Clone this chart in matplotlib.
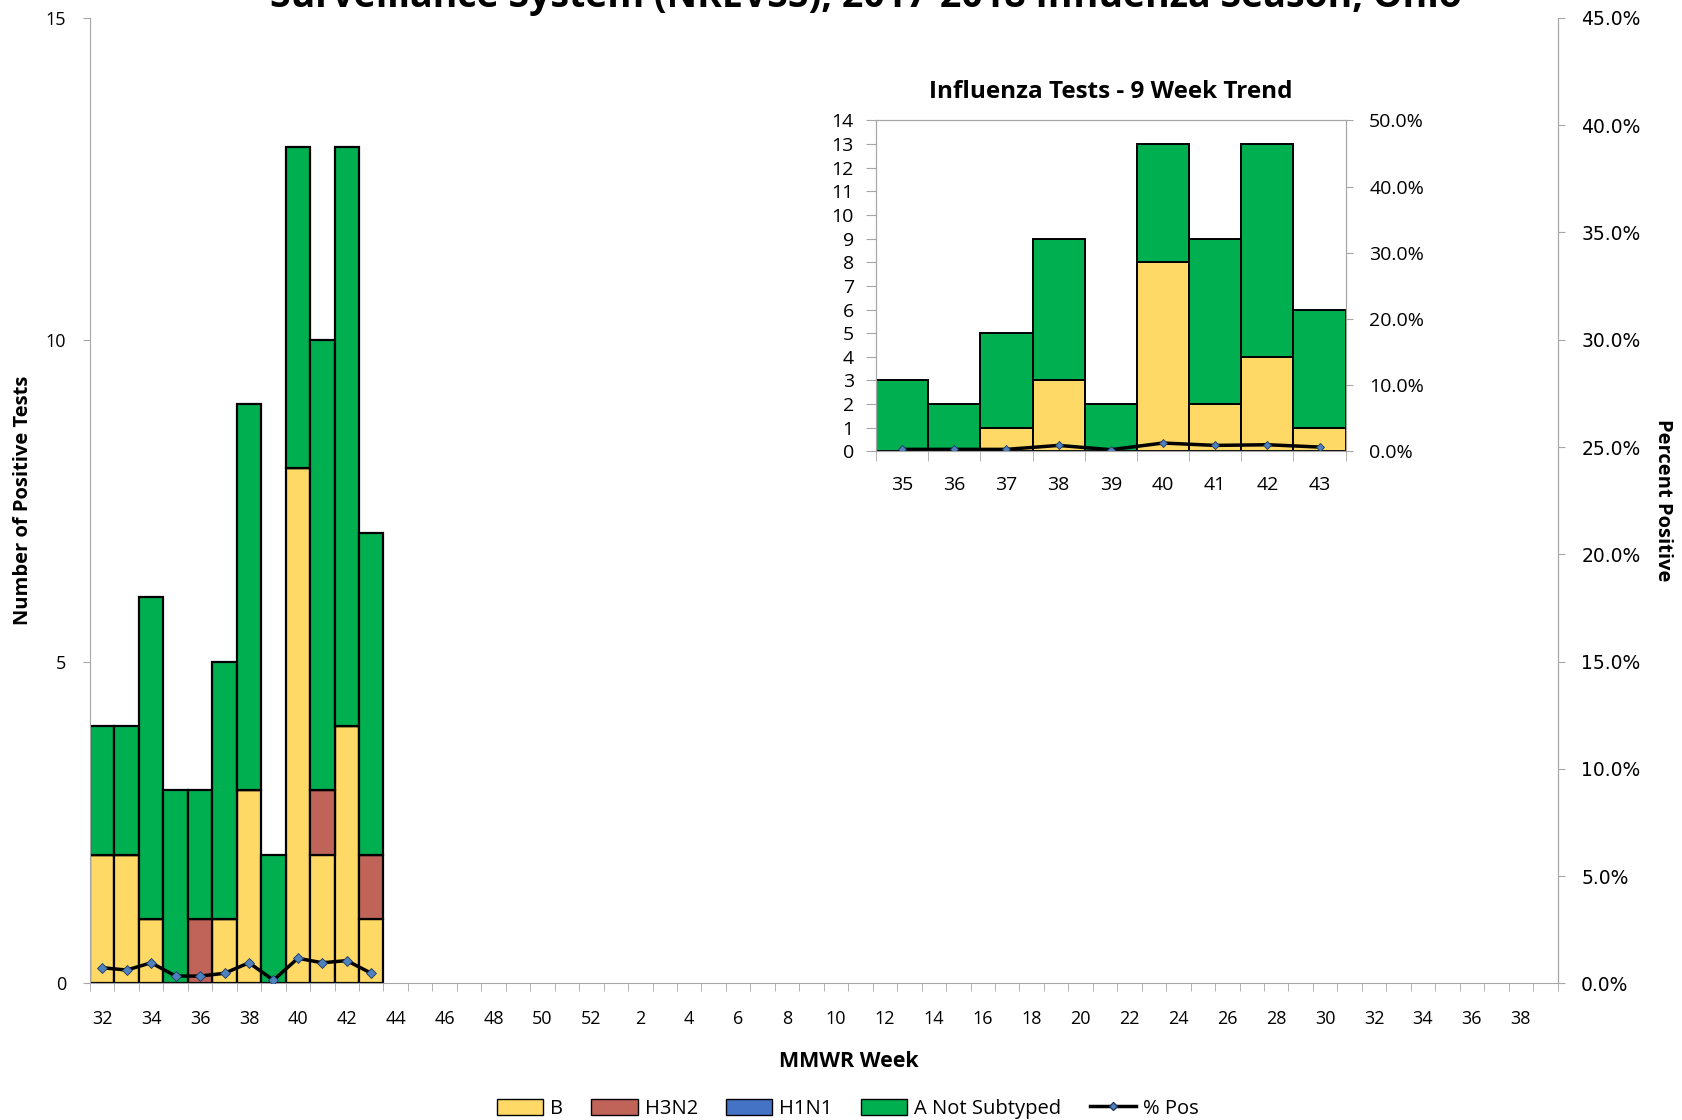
"""Influenza positive tests by MMWR week with a 9-week inset."""
import matplotlib
matplotlib.use("Agg")
import matplotlib.pyplot as plt
import numpy as np
from matplotlib.ticker import PercentFormatter, FixedLocator
from matplotlib.patches import Patch
from matplotlib.lines import Line2D

plt.rcParams["font.family"] = ["Open Sans", "DejaVu Sans"]

# main chart: season weeks 32..52, then 1..39
weeks = list(range(32, 53)) + list(range(1, 40))
b_vals = [2, 2, 1, 0, 0, 1, 3, 0, 8, 2, 4, 1]
h3n2_vals = [0, 0, 0, 0, 1, 0, 0, 0, 0, 1, 0, 1]
h1n1_vals = [0, 0, 0, 0, 0, 0, 0, 0, 0, 0, 0, 0]
ans_vals = [2, 2, 5, 3, 2, 4, 6, 2, 5, 7, 9, 5]
pct_pos = [0.73, 0.62, 0.96, 0.34, 0.34, 0.47, 0.96, 0.15, 1.17, 0.96, 1.06, 0.47]

# inset: last 9 weeks
inset_weeks = [35, 36, 37, 38, 39, 40, 41, 42, 43]
inset_b = [0, 0, 1, 3, 0, 8, 2, 4, 1]
inset_ans = [3, 2, 4, 6, 2, 5, 7, 9, 5]
inset_pct = [0.3, 0.3, 0.3, 0.9, 0.25, 1.26, 0.9, 1.0, 0.65]

C_B = "#FFD966"
C_H3 = "#C0645A"
C_H1 = "#4472C4"
C_ANS = "#00B050"
GREY = "#A6A6A6"


def run():
    fig = plt.figure(figsize=(16.82, 11.2), dpi=100)
    ax = fig.add_axes([0.0535, 0.122, 0.8725, 0.862])

    n = len(weeks)
    x = np.arange(n)
    k = len(b_vals)
    pad = lambda v: np.array(v + [0] * (n - k), dtype=float)
    b, h3, h1, an = pad(b_vals), pad(h3n2_vals), pad(h1n1_vals), pad(ans_vals)

    kw = dict(width=1.0, edgecolor="black", linewidth=1.6)
    ax.bar(x[:k], b[:k], color=C_B, **kw)
    ax.bar(x[:k], h3[:k], bottom=b[:k], color=C_H3, **kw)
    ax.bar(x[:k], h1[:k], bottom=(b + h3)[:k], color=C_H1, **kw)
    ax.bar(x[:k], an[:k], bottom=(b + h3 + h1)[:k], color=C_ANS, **kw)

    ax.set_xlim(-0.5, n - 0.5)
    ax.set_ylim(0, 15)
    ax.set_yticks([0, 5, 10, 15])
    ax.set_xticks(x[::2])
    ax.set_xticklabels([str(w) for w in weeks[::2]])
    ax.xaxis.set_minor_locator(FixedLocator(np.arange(-0.5, n, 1.0)))
    ax.tick_params(axis="x", which="major", length=0, pad=19, labelsize=13)
    ax.tick_params(axis="x", which="minor", length=6, color=GREY)
    ax.tick_params(axis="y", length=5, color=GREY, labelsize=13, pad=12)
    ax.spines["top"].set_visible(False)
    for s in ["left", "bottom", "right"]:
        ax.spines[s].set_color(GREY)
    ax.set_ylabel("Number of Positive Tests", fontsize=14.5, fontweight="bold", labelpad=9)
    ax.text(0.517, -0.081, "MMWR Week", transform=ax.transAxes, ha="center",
            va="center", fontsize=15.5, fontweight="bold")

    ax2 = ax.twinx()
    ax2.plot(x[:k], np.array(pct_pos) / 100, color="black", linewidth=2.5,
             marker="D", markersize=5, markerfacecolor="#4F81BD",
             markeredgecolor="#1F3864", markeredgewidth=0.6)
    ax2.set_ylim(0, 0.45)
    ax2.set_yticks(np.arange(0, 0.451, 0.05))
    ax2.yaxis.set_major_formatter(PercentFormatter(1.0, decimals=1))
    ax2.tick_params(axis="y", length=5, color=GREY, labelsize=13.5, pad=12,
                    labelfontfamily="DejaVu Sans")
    for s in ["top", "left", "bottom"]:
        ax2.spines[s].set_visible(False)
    ax2.spines["right"].set_color(GREY)
    fig.text(0.9887, 0.553, "Percent Positive", rotation=270, ha="center",
             va="center", fontsize=14.5, fontweight="bold")

    # inset
    ia = fig.add_axes([0.5208, 0.597, 0.2792, 0.2955])
    xi = np.arange(len(inset_weeks))
    ikw = dict(width=1.0, edgecolor="black", linewidth=1.4)
    ia.bar(xi, inset_b, color=C_B, **ikw)
    ia.bar(xi, inset_ans, bottom=inset_b, color=C_ANS, **ikw)
    ia.set_xlim(-0.5, len(xi) - 0.5)
    ia.set_ylim(0, 14)
    ia.set_yticks(range(0, 15))
    ia.set_xticks(xi)
    ia.set_xticklabels([str(w) for w in inset_weeks])
    ia.xaxis.set_minor_locator(FixedLocator(np.arange(-0.5, len(xi), 1.0)))
    ia.tick_params(axis="x", which="major", length=0, pad=18, labelsize=14)
    ia.tick_params(axis="x", which="minor", length=7, color=GREY)
    ia.tick_params(axis="y", length=7, color=GREY, labelsize=14, pad=9)
    for s in ia.spines.values():
        s.set_color(GREY)
    ia.set_title("Influenza Tests - 9 Week Trend", fontsize=17.5,
                 fontweight="bold", pad=16)

    ia2 = ia.twinx()
    ia2.plot(xi, np.array(inset_pct) / 100, color="black", linewidth=2.5,
             marker="D", markersize=4.5, markerfacecolor="#4F81BD",
             markeredgecolor="#1F3864", markeredgewidth=0.6)
    ia2.set_ylim(0, 0.5)
    ia2.set_yticks(np.arange(0, 0.51, 0.1))
    ia2.yaxis.set_major_formatter(PercentFormatter(1.0, decimals=1))
    ia2.tick_params(axis="y", length=5, color=GREY, labelsize=14, pad=12)
    for s in ia2.spines.values():
        s.set_color(GREY)

    # title (clipped at the top, as in the source image)
    fig.text(0.515, 0.994, "Surveillance System (NREVSS), 2017-2018 Influenza Season, Ohio",
             ha="center", va="baseline", fontsize=27, fontweight="bold")

    handles = [
        Patch(facecolor=C_B, edgecolor="black", label="B"),
        Patch(facecolor=C_H3, edgecolor="black", label="H3N2"),
        Patch(facecolor=C_H1, edgecolor="black", label="H1N1"),
        Patch(facecolor=C_ANS, edgecolor="black", label="A Not Subtyped"),
        Line2D([0], [0], color="black", linewidth=2.5, marker="D", markersize=4,
               markerfacecolor="#4F81BD", markeredgecolor="#1F3864", label="% Pos"),
    ]
    fig.legend(handles=handles, loc="center", bbox_to_anchor=(0.504, 0.01),
               ncol=5, frameon=False, fontsize=14.5, handlelength=2.3,
               handleheight=0.8, handletextpad=0.35, columnspacing=1.4)

    fig.savefig("out.png", dpi=100)
    plt.close(fig)


if __name__ == "__main__":
    run()
